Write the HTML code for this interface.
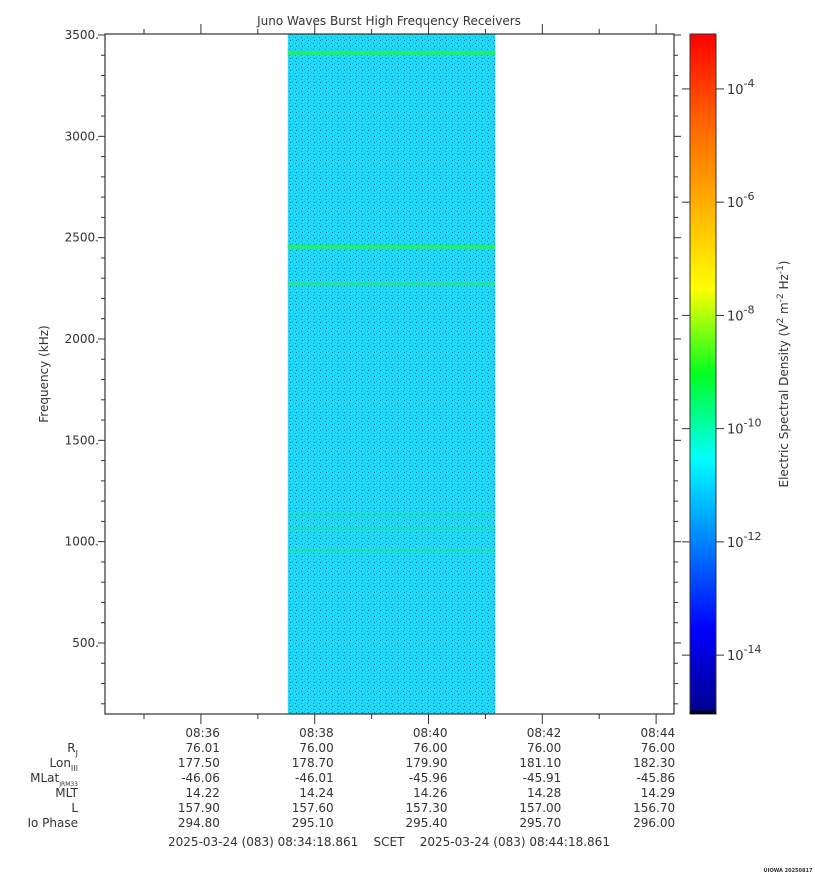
<!DOCTYPE html>
<html><head><meta charset="utf-8"><style>
body{margin:0;background:#fff}
svg text{font-family:"DejaVu Sans","Liberation Sans",sans-serif;fill:#333}
</style></head><body>
<svg id="chart" width="815" height="880" xmlns="http://www.w3.org/2000/svg">
<defs>
<linearGradient id="jet" x1="0" y1="1" x2="0" y2="0">
<stop offset="0" stop-color="#00008a"/><stop offset="0.125" stop-color="#0000ff"/>
<stop offset="0.375" stop-color="#00ffff"/><stop offset="0.5" stop-color="#00ff20"/>
<stop offset="0.625" stop-color="#ffff00"/><stop offset="0.875" stop-color="#ff6000"/>
<stop offset="1" stop-color="#ff0000"/></linearGradient>
<pattern id="noise" width="6" height="6" patternUnits="userSpaceOnUse">
<rect width="6" height="6" fill="#1edaf4"/>
<rect x="1" y="1" width="1" height="1" fill="#1a7ef0"/><rect x="4" y="3" width="1" height="1" fill="#2a9af0"/>
<rect x="2" y="4" width="1" height="1" fill="#1050f0"/><rect x="5" y="0" width="1" height="1" fill="#38b0f0"/>
<rect x="0" y="3" width="1" height="1" fill="#06f4e4"/><rect x="3" y="1" width="1" height="1" fill="#00f4e0"/>
</pattern>
</defs>
<text x="389" y="25" font-size="12" text-anchor="middle">Juno Waves Burst High Frequency Receivers</text>
<g id="plot"></g>
<rect x="105" y="34" width="569" height="680" fill="none" stroke="#333" stroke-width="1.2"/>
<text transform="translate(48,374) rotate(-90)" font-size="12" text-anchor="middle">Frequency (kHz)</text>
<rect x="690" y="34" width="26" height="680" fill="url(#jet)" stroke="#333"/>
<rect x="690" y="711" width="26" height="3" fill="#000"/>
<text transform="translate(788,374) rotate(-90)" font-size="12" text-anchor="middle">Electric Spectral Density (V<tspan dy="-5" font-size="9">2</tspan><tspan dy="5"> m</tspan><tspan dy="-5" font-size="9">-2</tspan><tspan dy="5"> Hz</tspan><tspan dy="-5" font-size="9">-1</tspan><tspan dy="5">)</tspan></text>
<g id="eph"></g>
<text x="389" y="846" font-size="12" text-anchor="middle" xml:space="preserve">2025-03-24 (083) 08:34:18.861    SCET    2025-03-24 (083) 08:44:18.861</text>
<text x="788" y="872" font-size="5" font-weight="bold" text-anchor="middle">UIOWA 20250817</text>
</svg>
<script>
const yTicks=[500,1000,1500,2000,2500,3000,3500];
const xTickLabels=["08:36","08:38","08:40","08:42","08:44"];
const xTickSecs=[101.139,221.139,341.139,461.139,581.139];
const dataStartSec=192.7, dataEndSec=411.6;
const lineFreqs=[3410,2455,2272,1130,1065,955];
const lineStrength=[1,1,0.7,0.35,0.3,0.45];
const cbExps=[-4,-6,-8,-10,-12,-14];
const rj=["76.01","76.00","76.00","76.00","76.00"];
const lon=["177.50","178.70","179.90","181.10","182.30"];
const mlat=["-46.06","-46.01","-45.96","-45.91","-45.86"];
const mlt=["14.22","14.24","14.26","14.28","14.29"];
const lsh=["157.90","157.60","157.30","157.00","156.70"];
const io=["294.80","295.10","295.40","295.70","296.00"];
const NS='http://www.w3.org/2000/svg';
const X0=105,X1=674,Y0=714,Y1=34;
const fy=f=>643-(f-500)*(608/3000);
const tx=s=>X0+s*(X1-X0)/600;
const cy=e=>714-(e+15.04)*(680/12.01);
function el(t,a,p){const e=document.createElementNS(NS,t);for(const k in a)e.setAttribute(k,a[k]);(p||document.getElementById('chart')).appendChild(e);return e;}
const plot=document.getElementById('plot');
let r=el('rect',{x:tx(dataStartSec),y:Y1,width:tx(dataEndSec)-tx(dataStartSec),height:Y0-Y1,fill:'url(#noise)'},plot);


lineFreqs.forEach((f,i)=>{
 const h=lineStrength[i]>0.9?4:3;
 const l=el('rect',{x:tx(dataStartSec),y:fy(f)-h/2,width:tx(dataEndSec)-tx(dataStartSec),height:h,fill:'#22ee66',opacity:lineStrength[i]},plot);
 
 
});
for(let f=200;f<=3500;f+=100){const y=fy(f);const maj=f%500===0;
 el('line',{x1:X0,x2:X0-(maj?7:4),y1:y,y2:y,stroke:'#333'});
 el('line',{x1:X1,x2:X1+(maj?7:4),y1:y,y2:y,stroke:'#333'});}
yTicks.forEach(f=>{const t=el('text',{x:99,y:fy(f)+4,'font-size':12,'text-anchor':'end'});t.textContent=f+'.';
 
 });
for(let s=xTickSecs[0]-60;s<600;s+=60){const x=tx(s);const maj=Math.round((s-xTickSecs[0])/60)%2===0;
 el('line',{x1:x,x2:x,y1:Y0,y2:Y0+(maj?10:5),stroke:'#333'});
 el('line',{x1:x,x2:x,y1:Y1,y2:Y1-(maj?10:5),stroke:'#333'});}
const rows=[xTickLabels,rj,lon,mlat,mlt,lsh,io];
rows.forEach((arr,ri)=>arr.forEach((v,i)=>{const t=el('text',{x:tx(xTickSecs[i])+19,y:737+ri*15,'font-size':12,'text-anchor':'end'},document.getElementById('eph'));t.textContent=v;
 
 }));
const labHtml=['R<tspan font-size="8" dy="4">J</tspan>','Lon<tspan font-size="8" dy="4">III</tspan>','MLat<tspan font-size="6" dy="4">JRM33</tspan>','MLT','L','Io Phase'];
labHtml.forEach((h,i)=>{const t=el('text',{x:78,y:752+i*15,'font-size':12,'text-anchor':'end'},document.getElementById('eph'));t.innerHTML=h;
 
 });
cbExps.forEach(e=>{const y=cy(e);
 el('line',{x1:682,x2:690,y1:y,y2:y,stroke:'#333'});el('line',{x1:716,x2:724,y1:y,y2:y,stroke:'#333'});
 const t=el('text',{x:727,y:y+5,'font-size':13});t.innerHTML='10<tspan dy="-7" font-size="11">'+e+'</tspan>';
 
 });
</script>
</body></html>
